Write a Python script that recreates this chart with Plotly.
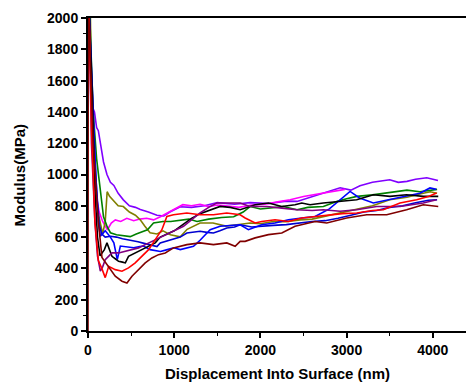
import plotly.graph_objects as go

# ---- data ----
violet_x = [38, 46, 60, 75, 100, 120, 150, 180, 220, 260, 300, 350, 410, 480, 550, 607, 700, 800, 880, 950, 1070, 1200, 1350, 1500, 1700, 1880, 2100, 2300, 2425, 2550, 2730, 2925, 3050, 3155, 3300, 3500, 3600, 3700, 3800, 3930, 4060]
violet_y = [1450, 1572, 1420, 1400, 1300, 1280, 1180, 1080, 1000, 950, 930, 880, 838, 800, 790, 776, 760, 740, 735, 760, 794, 790, 800, 820, 810, 820, 815, 830, 828, 850, 883, 915, 900, 928, 950, 966, 950, 956, 970, 979, 962]

magenta_x = [10, 40, 70, 100, 130, 170, 225, 270, 317, 380, 450, 530, 600, 680, 760, 840, 920, 1000, 1100, 1200, 1300, 1400, 1500, 1600, 1750, 1900, 2050, 2200, 2345, 2500, 2650, 2770, 2850, 2925, 2980]
magenta_y = [2100, 1500, 1050, 850, 760, 700, 647, 690, 710, 700, 720, 705, 715, 720, 710, 730, 755, 780, 807, 800, 810, 795, 805, 800, 790, 805, 810, 825, 839, 860, 875, 883, 895, 900, 905]

olive_x = [25, 40, 65, 90, 120, 150, 170, 200, 222, 250, 300, 350, 410, 480, 550, 606, 660, 720, 800, 870, 955, 1070, 1150, 1300, 1450, 1600, 1750, 1880, 2000, 2150, 2300, 2460, 2600, 2730, 2900, 3120, 3300, 3500, 3700, 3850, 3970, 4050]
olive_y = [2100, 1600, 1160, 900, 750, 660, 620, 700, 890, 860, 830, 800, 795, 760, 740, 710, 670, 628, 620, 640, 615, 602, 650, 690, 690, 670, 680, 690, 685, 700, 698, 710, 715, 730, 750, 775, 800, 839, 855, 875, 890, 880]

green_x = [15, 60, 100, 143, 180, 220, 260, 330, 400, 490, 560, 630, 690, 760, 870, 960, 1070, 1170, 1265, 1400, 1550, 1690, 1800, 1880, 2000, 2150, 2265, 2425, 2550, 2730, 2900, 3000, 3120, 3300, 3500, 3700, 3850, 4000, 4050]
green_y = [2100, 1400, 1100, 900, 730, 670, 628, 615, 610, 603, 620, 635, 647, 690, 700, 700, 710, 715, 700, 715, 725, 730, 760, 795, 780, 790, 795, 775, 790, 795, 830, 845, 860, 870, 883, 900, 890, 900, 905]

blue_x = [10, 50, 90, 120, 143, 200, 260, 300, 340, 375, 450, 530, 600, 645, 720, 840, 920, 995, 1070, 1150, 1224, 1300, 1340, 1417, 1533, 1650, 1765, 1861, 2016, 2170, 2325, 2480, 2634, 2800, 2924, 3040, 3150, 3310, 3500, 3696, 3850, 3967, 4040]
blue_y = [2100, 1500, 1000, 700, 605, 640, 600, 563, 456, 543, 540, 532, 540, 543, 520, 508, 520, 532, 520, 530, 541, 580, 605, 647, 669, 675, 679, 647, 679, 690, 711, 722, 732, 780, 839, 892, 850, 818, 840, 860, 880, 914, 905]

blue2_x = [10, 60, 100, 130, 160, 200, 260, 330, 400, 500, 580, 650, 720, 800, 838, 920, 992, 1070, 1147, 1220, 1300, 1380, 1455, 1530, 1610, 1700, 1765, 1900, 2000, 2150, 2300, 2450, 2600, 2750, 2900, 3050, 3200, 3350, 3500, 3650, 3800, 3950, 4050]
blue2_y = [2100, 1300, 900, 680, 620, 600, 605, 600, 590, 580, 570, 560, 550, 540, 563, 575, 584, 600, 626, 630, 637, 630, 626, 640, 658, 665, 679, 665, 670, 675, 680, 690, 700, 705, 720, 740, 760, 770, 790, 800, 820, 835, 839]

black_x = [10, 50, 80, 110, 140, 162, 190, 220, 250, 278, 320, 355, 400, 433, 470, 548, 625, 703, 780, 838, 896, 1000, 1100, 1200, 1300, 1417, 1533, 1650, 1765, 1939, 2093, 2248, 2402, 2480, 2576, 2730, 2924, 3117, 3310, 3503, 3696, 3889, 4063]
black_y = [2100, 1500, 900, 600, 480, 499, 520, 563, 520, 477, 460, 445, 440, 435, 477, 499, 520, 541, 563, 600, 616, 640, 680, 720, 750, 775, 796, 790, 775, 807, 818, 796, 807, 818, 807, 818, 828, 839, 871, 860, 871, 860, 860]

red_x = [10, 40, 80, 120, 160, 200, 240, 280, 316, 394, 470, 548, 625, 703, 780, 857, 915, 992, 1147, 1300, 1455, 1610, 1765, 1823, 1939, 2016, 2170, 2325, 2480, 2634, 2770, 2950, 3117, 3300, 3425, 3619, 3812, 3950, 4044]
red_y = [2100, 1300, 700, 450, 400, 341, 413, 400, 392, 382, 403, 435, 477, 520, 584, 647, 732, 743, 754, 743, 743, 754, 743, 722, 690, 700, 711, 700, 722, 732, 743, 750, 754, 770, 775, 818, 839, 860, 882]

purple_x = [10, 40, 80, 110, 143, 170, 200, 240, 278, 355, 433, 510, 587, 664, 741, 818, 896, 1000, 1108, 1200, 1300, 1400, 1495, 1610, 1687, 1765, 1880, 2074, 2250, 2421, 2600, 2730, 2924, 3117, 3349, 3619, 3889, 4044]
purple_y = [2100, 1200, 700, 480, 382, 410, 456, 480, 499, 499, 509, 520, 531, 552, 573, 595, 616, 640, 669, 710, 754, 790, 818, 818, 818, 818, 796, 796, 785, 775, 770, 775, 765, 775, 796, 796, 818, 839]

maroon_x = [0, 3, 60, 120, 162, 210, 260, 316, 394, 452, 510, 587, 664, 741, 818, 896, 992, 1147, 1300, 1455, 1610, 1707, 1765, 1823, 1939, 2093, 2248, 2402, 2557, 2634, 2770, 3001, 3233, 3465, 3696, 3889, 4063]
maroon_y = [0, 2100, 1200, 700, 470, 430, 392, 350, 318, 307, 350, 392, 435, 467, 488, 499, 531, 552, 563, 552, 563, 541, 573, 573, 595, 616, 626, 669, 690, 700, 690, 722, 743, 743, 775, 807, 796]

x_ticks = [0, 1000, 2000, 3000, 4000]
y_ticks = [0, 200, 400, 600, 800, 1000, 1200, 1400, 1600, 1800, 2000]

series = [
    (violet_x, violet_y, "#8000ff"),
    (magenta_x, magenta_y, "#ff00ff"),
    (olive_x, olive_y, "#808000"),
    (green_x, green_y, "#008000"),
    (blue2_x, blue2_y, "#0000d0"),
    (blue_x, blue_y, "#0000ff"),
    (black_x, black_y, "#000000"),
    (purple_x, purple_y, "#800080"),
    (red_x, red_y, "#ff0000"),
    (maroon_x, maroon_y, "#800000"),
]

fig = go.Figure()
for xs, ys, c in series:
    fig.add_trace(go.Scatter(x=xs, y=ys, mode="lines",
                             line=dict(color=c, width=1.6), showlegend=False))

FAM = "Liberation Sans, Arial, sans-serif"
font_tick = dict(family=FAM, size=14, color="black")
fig.update_layout(
    width=466, height=383,
    margin=dict(l=88, r=0, t=18, b=52),
    paper_bgcolor="white", plot_bgcolor="white",
    font=dict(family=FAM, color="black"),
    annotations=[
        dict(text="<b>Displacement Into Surface (nm)</b>", xref="paper", yref="paper",
             x=0.5, y=-0.137, xanchor="center", yanchor="middle", showarrow=False,
             font=dict(family=FAM, size=15, color="black")),
        dict(text="<b>Modulus(MPa)</b>", xref="paper", yref="paper",
             x=-0.18, y=0.5, xanchor="center", yanchor="middle", showarrow=False,
             textangle=-90, font=dict(family=FAM, size=15, color="black")),
    ],
)
fig.update_xaxes(
    range=[0, 4385], tickvals=x_ticks, ticktext=[f"<b>{v}</b>" for v in x_ticks],
    automargin=False,
    showgrid=False, zeroline=False, showline=True, linecolor="black", linewidth=2,
    mirror=True, ticks="outside", ticklen=5, tickwidth=1.5, tickcolor="black",
    minor=dict(dtick=500, ticks="outside", ticklen=3, tickwidth=1.2, tickcolor="black", tick0=0),
    tickfont=font_tick,
)
fig.update_yaxes(
    range=[0, 2000], tickvals=y_ticks, ticktext=[f"<b>{v}</b>" for v in y_ticks],
    automargin=False,
    showgrid=False, zeroline=False, showline=True, linecolor="black", linewidth=2,
    mirror=False, ticks="outside", ticklen=5, tickwidth=1.5, tickcolor="black",
    minor=dict(dtick=100, ticks="outside", ticklen=3, tickwidth=1.2, tickcolor="black", tick0=0),
    tickfont=font_tick,
)

fig.write_html("out.html", config={"displayModeBar": False},
               post_script="document.body.style.margin='0';document.body.style.overflow='hidden';")
